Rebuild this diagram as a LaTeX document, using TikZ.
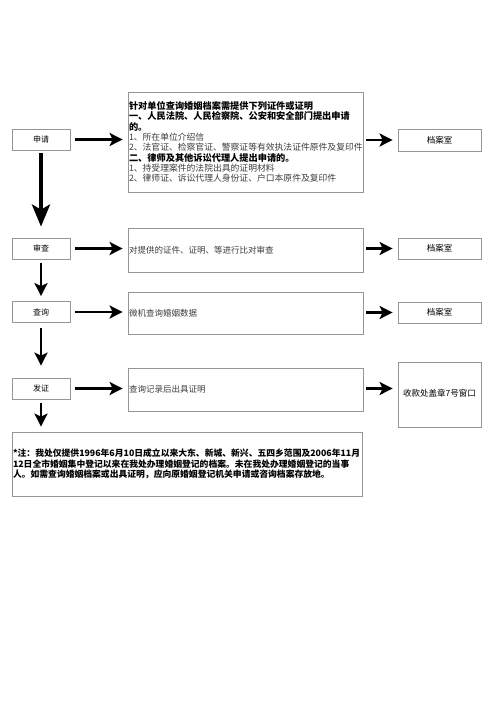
\documentclass[tikz,border=0pt]{standalone}
\usepackage{fontspec}
\setmainfont{Noto Sans CJK SC}
\usetikzlibrary{arrows.meta}
\definecolor{boxline}{RGB}{150,150,150}
\definecolor{softtext}{RGB}{60,60,60}
\newcommand{\boldline}[1]{{\bfseries\fontsize{9.2}{10.3}\selectfont #1}}
\newcommand{\thinline}[1]{{\color{softtext}\fontsize{8.8}{10.3}\selectfont #1}}

\begin{document}
\begin{tikzpicture}[x=1pt,y=-1pt,
  stagebox/.style={draw=boxline,line width=0.8pt,minimum width=58pt,minimum height=21pt,inner sep=0pt,font=\fontsize{8}{9}\selectfont},
  textbox/.style={draw=boxline,line width=0.8pt,minimum width=235pt,text width=233pt,inner xsep=1pt,align=left,font=\fontsize{8.5}{10.3}\selectfont},
  roombox/.style={draw=boxline,line width=0.8pt,minimum width=83pt,minimum height=21pt,inner sep=0pt,font=\fontsize{8.5}{10}\selectfont},
  flowarrow/.style={-{Stealth[length=13pt,width=13pt,inset=3pt]},line width=2.6pt},
  bigarrow/.style={-{Stealth[length=22pt,width=18pt,inset=5pt]},line width=4pt}]
\useasboundingbox (0,0) rectangle (496,702);

%Shape: stages on the left
\node [stagebox] (apply) at (41,139.5) {申请};
\node [stagebox] (check) at (41,248.5) {审查};
\node [stagebox] (query) at (41,312) {查询};
\node [stagebox] (issue) at (41,388.5) {发证};

%Shape: text boxes in the middle
\node [textbox,minimum height=100pt] (needs) at (245.5,142) {\boldline{针对单位查询婚姻档案需提供下列证件或证明}\\
\boldline{一、人民法院、人民检察院、公安和安全部门提出申请}\\
\boldline{的。}\\
\thinline{1、所在单位介绍信}\\
\thinline{2、法官证、检察官证、警察证等有效执法证件原件及复印件}\\
\boldline{二、律师及其他诉讼代理人提出申请的。}\\
\thinline{1、持受理案件的法院出具的证明材料}\\
\thinline{2、律师证、诉讼代理人身份证、户口本原件及复印件}};
\node [textbox,minimum height=44pt,text=softtext] (compare) at (245.5,250) {对提供的证件、证明、等进行比对审查};
\node [textbox,minimum height=42pt,text=softtext] (search) at (245.5,313) {微机查询婚姻数据};
\node [textbox,minimum height=43pt,text=softtext] (record) at (245.5,389.5) {查询记录后出具证明};

%Shape: archive rooms on the right
\node [roombox,minimum height=22pt] (room1) at (439.5,140) {档案室};
\node [roombox] (room2) at (439.5,248.5) {档案室};
\node [roombox] (room3) at (439.5,312.5) {档案室};
\node [roombox,minimum height=65pt] (window) at (439.5,394.5) {\raisebox{4pt}{收款处盖章7号窗口}};

% Text Node
\node [draw=boxline,line width=0.8pt,minimum width=350pt,minimum height=64pt,text width=348pt,inner xsep=1pt,align=left,font=\bfseries\fontsize{8.8}{10.5}\selectfont] (note) at (187,464) {*注：我处仅提供1996年6月10日成立以来大东、新城、新兴、五四乡范围及2006年11月\\
12日全市婚姻集中登记以来在我处办理婚姻登记的档案。未在我处办理婚姻登记的当事\\
人。如需查询婚姻档案或出具证明，应向原婚姻登记机关申请或咨询档案存放地。};

%Straight Lines down the left
\draw [bigarrow,shorten <=3pt,shorten >=11pt] (apply.south) -- (check.north);
\draw [flowarrow,shorten <=4pt,shorten >=5pt] (check.south) -- (query.north);
\draw [flowarrow,shorten <=5pt,shorten >=12pt] (query.south) -- (issue.north);
\draw [flowarrow,shorten <=4pt,shorten >=5pt] (issue.south) -- (issue.south |- note.north);

%Straight Lines across
\draw [flowarrow,shorten <=5pt,shorten >=5pt] (apply.east) -- (apply.east -| needs.west);
\draw [flowarrow,shorten <=5pt,shorten >=5pt] (check.east) -- (check.east -| compare.west);
\draw [flowarrow,shorten <=5pt,shorten >=5pt] (query.east) -- (query.east -| search.west);
\draw [flowarrow,shorten <=5pt,shorten >=5pt] (issue.east) -- (issue.east -| record.west);
\draw [flowarrow,shorten <=3pt,shorten >=5pt] (needs.east |- room1) -- (room1.west);
\draw [flowarrow,shorten <=3pt,shorten >=5pt] (compare.east |- room2) -- (room2.west);
\draw [flowarrow,shorten <=3pt,shorten >=5pt] (search.east |- room3) -- (room3.west);
\draw [flowarrow,shorten <=3pt,shorten >=5pt] (record.east |- issue) -- (window.west |- issue);

\end{tikzpicture}
\end{document}
